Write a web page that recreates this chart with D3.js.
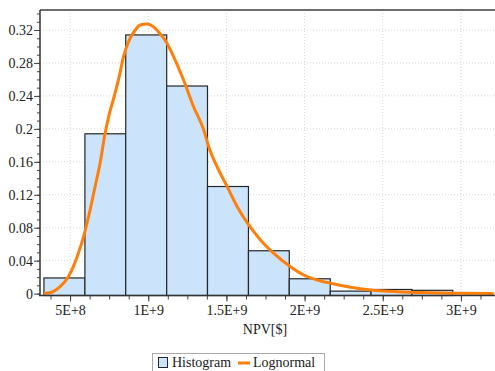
<!DOCTYPE html>
<html>
<head>
<meta charset="utf-8">
<script src="https://cdn.jsdelivr.net/npm/d3@7"></script>
<style>
  body { margin: 0; background: #fff; }
  svg { display: block; }
</style>
</head>
<body>
<div id="chart"></div>
<script>
// histogram bins (NPV in $) and relative frequencies
const binEdges = [3.33e8, 5.95e8, 8.56e8, 1.118e9, 1.379e9, 1.641e9, 1.902e9, 2.164e9, 2.425e9, 2.687e9, 2.948e9];
const binValues = [0.019, 0.194, 0.314, 0.252, 0.130, 0.052, 0.018, 0.003, 0.005, 0.004];

// lognormal fit
const curveX = [3.33e8, 3.72e8, 4.36e8, 4.89e8, 5.21e8, 5.53e8, 5.92e8, 6.28e8, 6.60e8, 6.92e8,
    7.24e8, 7.52e8, 7.82e8, 8.14e8, 8.42e8, 8.74e8, 9.17e8, 9.49e8, 9.92e8, 1.045e9,
    1.077e9, 1.120e9, 1.162e9, 1.226e9, 1.290e9, 1.355e9, 1.387e9, 1.440e9, 1.505e9, 1.569e9,
    1.643e9, 1.718e9, 1.803e9, 1.910e9, 1.996e9, 2.081e9, 2.167e9, 2.295e9, 2.423e9, 2.594e9,
    2.808e9, 3.0e9, 3.21e9];
const curveY = [0.0004, 0.0011, 0.0084, 0.0205, 0.0327, 0.0489, 0.0732, 0.1015, 0.1298, 0.1582,
    0.1946, 0.2189, 0.2390, 0.2633, 0.2876, 0.3058, 0.3200, 0.3261, 0.3273, 0.3221,
    0.3151, 0.3039, 0.2876, 0.2593, 0.2269, 0.1986, 0.1783, 0.1540, 0.1298, 0.1055,
    0.0833, 0.0651, 0.0489, 0.0327, 0.0226, 0.0165, 0.0125, 0.0076, 0.0044, 0.0023,
    0.0011, 0.0004, 0.0];

const xTicks = [5e8, 1e9, 1.5e9, 2e9, 2.5e9, 3e9];
const xTickLabels = ['5E+8', '1E+9', '1.5E+9', '2E+9', '2.5E+9', '3E+9'];
const yTicks = [0, 0.04, 0.08, 0.12, 0.16, 0.2, 0.24, 0.28, 0.32];
const yTickLabels = ['0', '0.04', '0.08', '0.12', '0.16', '0.2', '0.24', '0.28', '0.32'];

const width = 495;
const height = 371;
const margin = { top: 10, right: 1, bottom: 77, left: 40 };
const font = '"Liberation Serif", "Times New Roman", serif';

const svg = d3.select('#chart')
    .append('svg')
    .attr('width', width)
    .attr('height', height);

const x = d3.scaleLinear()
    .domain([3.077e8, 3.2115e9])
    .range([margin.left, width - margin.right]);

const y = d3.scaleLinear()
    .domain([0, 0.32])
    .range([293.6, 30]);

const bottomY = 295.5;

// grid
const grid = svg.append('g')
    .attr('stroke', '#d8d8d8')
    .attr('stroke-dasharray', '1,2');
grid.selectAll('.gy')
    .data(yTicks.slice(1))
    .join('line')
    .attr('x1', margin.left).attr('x2', width - margin.right)
    .attr('y1', d => y(d)).attr('y2', d => y(d));
grid.selectAll('.gx')
    .data(xTicks)
    .join('line')
    .attr('x1', d => x(d)).attr('x2', d => x(d))
    .attr('y1', margin.top).attr('y2', bottomY);

// histogram
svg.append('g')
    .selectAll('rect')
    .data(binValues)
    .join('rect')
    .attr('x', (d, i) => x(binEdges[i]))
    .attr('y', d => y(d))
    .attr('width', (d, i) => x(binEdges[i + 1]) - x(binEdges[i]))
    .attr('height', d => bottomY - y(d))
    .attr('fill', '#cce4fb')
    .attr('stroke', '#262626')
    .attr('stroke-width', 1.2);

// lognormal curve
const line = d3.line()
    .x(d => x(d[0]))
    .y(d => y(d[1]))
    .curve(d3.curveMonotoneX);

svg.append('path')
    .datum(curveX.map((v, i) => [v, curveY[i]]))
    .attr('d', line)
    .attr('fill', 'none')
    .attr('stroke', '#ff7f0a')
    .attr('stroke-width', 3)
    .attr('stroke-linejoin', 'round');

// frame
svg.append('line')
    .attr('x1', margin.left).attr('x2', width)
    .attr('y1', margin.top).attr('y2', margin.top)
    .attr('stroke', '#6e6e6e')
    .attr('stroke-width', 2);

// y axis
const yAxis = g => {
    g.attr('transform', `translate(${margin.left},0)`)
        .call(d3.axisLeft(y)
            .tickValues(yTicks)
            .tickFormat((d, i) => yTickLabels[i])
            .tickSize(6)
            .tickPadding(1))
        .call(g => g.select('.domain').remove())
        .attr('font-family', font)
        .attr('font-size', 14);
    g.selectAll('line').attr('stroke', '#444');
    g.selectAll('text').attr('fill', '#222');
};
svg.append('g').call(yAxis);

svg.append('g')
    .attr('transform', `translate(${margin.left},0)`)
    .call(d3.axisLeft(y)
        .tickValues(d3.range(0, 0.345, 0.01))
        .tickFormat('')
        .tickSize(3))
    .call(g => g.select('.domain').remove())
    .selectAll('line').attr('stroke', '#444');

svg.append('line')
    .attr('x1', margin.left).attr('x2', margin.left)
    .attr('y1', margin.top).attr('y2', bottomY)
    .attr('stroke', '#333')
    .attr('stroke-width', 1.5);

// x axis
const xAxis = g => {
    g.attr('transform', `translate(0,${bottomY})`)
        .call(d3.axisBottom(x)
            .tickValues(xTicks)
            .tickFormat((d, i) => xTickLabels[i])
            .tickSize(6)
            .tickPadding(4))
        .call(g => g.select('.domain').remove())
        .attr('font-family', font)
        .attr('font-size', 14);
    g.selectAll('line').attr('stroke', '#444');
    g.selectAll('text').attr('fill', '#222');
};
svg.append('g').call(xAxis);

svg.append('g')
    .attr('transform', `translate(0,${bottomY})`)
    .call(d3.axisBottom(x)
        .tickValues(d3.range(3.75e8, 3.2e9, 1.25e8))
        .tickFormat('')
        .tickSize(4))
    .call(g => g.select('.domain').remove())
    .selectAll('line').attr('stroke', '#444');

svg.append('line')
    .attr('x1', margin.left - 1).attr('x2', width)
    .attr('y1', bottomY).attr('y2', bottomY)
    .attr('stroke', '#333')
    .attr('stroke-width', 1.5);

svg.append('text')
    .attr('x', 265)
    .attr('y', 334)
    .attr('text-anchor', 'middle')
    .attr('font-family', font)
    .attr('font-size', 14)
    .attr('fill', '#222')
    .text('NPV[$]');

// legend
const legend = svg.append('g');
legend.append('rect')
    .attr('x', 152.5).attr('y', 353.5)
    .attr('width', 172).attr('height', 25)
    .attr('fill', '#fff')
    .attr('stroke', '#aaa');
legend.append('rect')
    .attr('x', 158.5).attr('y', 357.5)
    .attr('width', 9).attr('height', 10)
    .attr('fill', '#cce4fb')
    .attr('stroke', '#262626');
legend.append('text')
    .attr('x', 172).attr('y', 367)
    .attr('font-family', font).attr('font-size', 14).attr('fill', '#222')
    .text('Histogram');
legend.append('line')
    .attr('x1', 238).attr('x2', 250)
    .attr('y1', 363).attr('y2', 363)
    .attr('stroke', '#ff7f0a').attr('stroke-width', 3);
legend.append('text')
    .attr('x', 253).attr('y', 367)
    .attr('font-family', font).attr('font-size', 14).attr('fill', '#222')
    .text('Lognormal');
</script>
</body>
</html>
